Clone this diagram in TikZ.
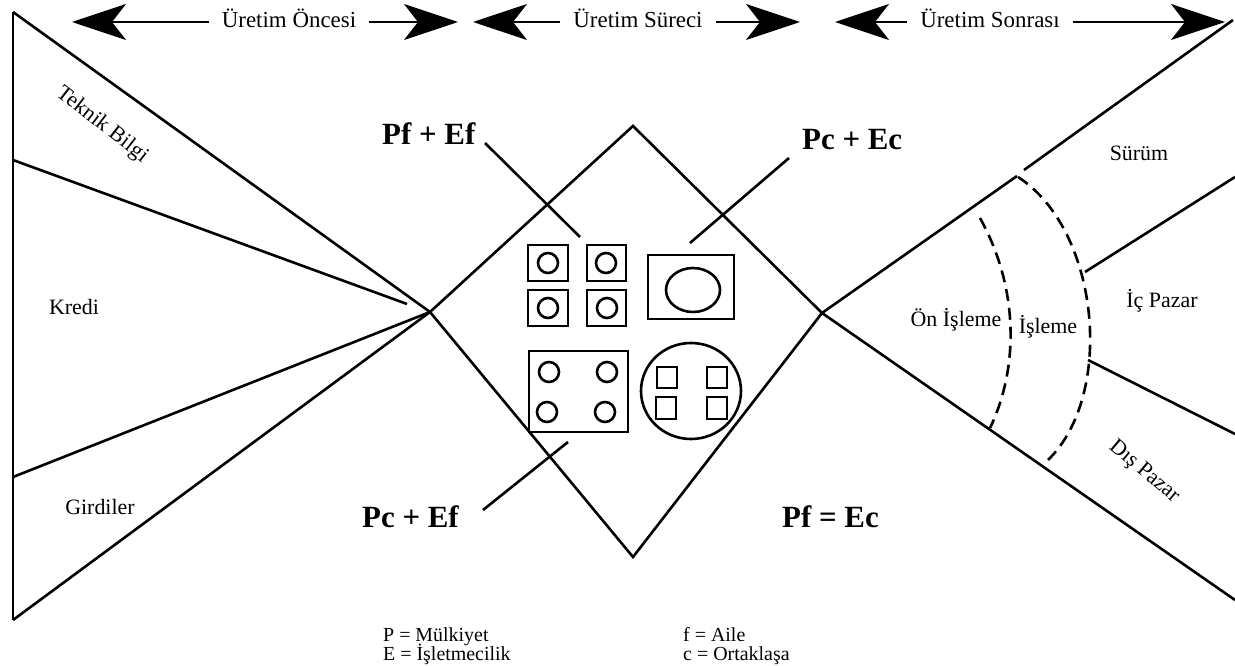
\documentclass[tikz,border=0pt]{standalone}
\usepackage{fontspec}
\setmainfont{Liberation Serif}
\usetikzlibrary{arrows.meta}
\begin{document}
\begin{tikzpicture}[x=1bp,y=-1bp,line join=miter,
  ln/.style={line width=2.6bp},
  dsh/.style={line width=2.6bp,dash pattern=on 12bp off 7bp},
  bighead/.style={line width=2.2bp,-{Stealth[length=54bp,width=36bp,inset=14bp]}},
  toplab/.style={font=\fontsize{23}{26}\selectfont,inner xsep=13bp,inner ysep=0pt,anchor=base},
  lab/.style={font=\fontsize{22}{25}\selectfont,inner sep=0pt},
  big/.style={font=\fontsize{31}{34}\selectfont\bfseries,inner sep=0pt,anchor=base west},
  leg/.style={font=\fontsize{20}{20}\selectfont,inner sep=0pt,anchor=base west},
  shp/.style={line width=2.6bp}]
\useasboundingbox (0,0) rectangle (1235,666);
\fill[white] (0,0) rectangle (1235,666);

% ---- top arrows
\coordinate (h1l) at (72,22);  \coordinate (h1r) at (458,22);
\coordinate (h2l) at (473,22); \coordinate (h2r) at (800,22);
\coordinate (h3l) at (835,22); \coordinate (h3r) at (1225,22);
\node[toplab] (t1) at (289,28) {Üretim Öncesi};
\node[toplab] (t2) at (638,28) {Üretim Süreci};
\node[toplab] (t3) at (990,28) {Üretim Sonrası};
\draw[bighead] (t1.west |- h1l) -- (h1l);
\draw[bighead] (t1.east |- h1r) -- (h1r);
\draw[bighead] (t2.west |- h2l) -- (h2l);
\draw[bighead] (t2.east |- h2r) -- (h2r);
\draw[bighead] (t3.west |- h3l) -- (h3l);
\draw[bighead] (t3.east |- h3r) -- (h3r);

% ---- left fan
\coordinate (TL) at (13,12);  \coordinate (BL) at (13,620);
\coordinate (K1) at (13,160); \coordinate (K2) at (13,477);
\coordinate (X1) at (430,312); \coordinate (K1e) at (407,304);
\draw[ln] (TL) -- (BL);
\draw[ln] (TL) -- (X1);
\draw[ln] (K1) -- (K1e);
\draw[ln] (K2) -- (X1);
\draw[ln] (BL) -- (X1);

% ---- diamond
\coordinate (DT) at (633,126); \coordinate (DB) at (633,557);
\coordinate (X2) at (822,313);
\draw[ln] (X1) -- (DT) -- (X2) -- (DB) -- cycle;

% ---- right fan
\coordinate (U1) at (1017,176); \coordinate (U2) at (1024,170);
\coordinate (U3) at (1233,20);  \coordinate (L3) at (1235,600);
\draw[ln] (X2) -- (U1);
\draw[ln] (U2) -- (U3);
\draw[ln] (X2) -- (L3);
\coordinate (D1a) at (1085,272); \coordinate (D1b) at (1235,177);
\coordinate (D2a) at (1088,360); \coordinate (D2b) at (1235,434);
\draw[ln] (D1a) -- (D1b);
\draw[ln] (D2a) -- (D2b);
\coordinate (A1s) at (980,218); \coordinate (A1e) at (990,428);
\coordinate (A2s) at (1018,177); \coordinate (A2e) at (1048,460);
\draw[dsh] (A1s) .. controls (1020,290) and (1018,370) .. (A1e);
\draw[dsh] (A2s) .. controls (1100,230) and (1115,395) .. (A2e);

% ---- centre shapes
\draw[shp] (528,245) rectangle (568,281); \draw[shp] (548,263) circle (10);
\draw[shp] (587,245) rectangle (626,281); \draw[shp] (606,263) circle (10);
\draw[shp] (528,290) rectangle (568,326); \draw[shp] (548,308) circle (10);
\draw[shp] (587,290) rectangle (626,326); \draw[shp] (607,308) circle (10);
\draw[shp] (648,255) rectangle (734,319); \draw[shp] (693,290) ellipse (27 and 22);
\draw[shp] (529,351) rectangle (628,432);
\draw[shp] (549,372) circle (10); \draw[shp] (607,372) circle (10);
\draw[shp] (547,412) circle (10); \draw[shp] (605,412) circle (10);
\draw[shp] (691,391) ellipse (50 and 48);
\draw[shp] (657,367) rectangle (677,388); \draw[shp] (707,367) rectangle (727,388);
\draw[shp] (656,397) rectangle (676,419); \draw[shp] (707,397) rectangle (727,419);

% ---- bold labels and leaders
\node[big] (pfef) at (382,145) {Pf + Ef};
\node[big] (pcec) at (802,150) {Pc + Ec};
\node[big] (pcef) at (362,527) {Pc + Ef};
\node[big] (pfec) at (782,527) {Pf = Ec};
\coordinate (q1a) at (485,143); \coordinate (q1b) at (580,237);
\coordinate (q2a) at (789,158); \coordinate (q2b) at (690,243);
\coordinate (q3a) at (483,510); \coordinate (q3b) at (568,442);
\draw[ln] (q1a) -- (q1b);
\draw[ln] (q2a) -- (q2b);
\draw[ln] (q3a) -- (q3b);

% ---- labels
\node[lab,rotate=-38] (tb) at (102,125) {Teknik Bilgi};
\node[lab] (kr) at (74,307) {Kredi};
\node[lab] (gi) at (100,507) {Girdiler};
\node[lab] (su) at (1139,153) {Sürüm};
\node[lab] (ic) at (1162,301) {İç Pazar};
\node[lab] (on) at (956,320) {Ön İşleme};
\node[lab] (is) at (1048,327) {İşleme};
\node[lab,rotate=-40] (dp) at (1144,472) {Dış Pazar};

% ---- legend
\node[leg] (lp) at (383,641) {P = Mülkiyet};
\node[leg] (le) at (383,660) {E = İşletmecilik};
\node[leg] (lf) at (683,641) {f = Aile};
\node[leg] (lc) at (683,660) {c = Ortaklaşa};
\end{tikzpicture}
\end{document}
